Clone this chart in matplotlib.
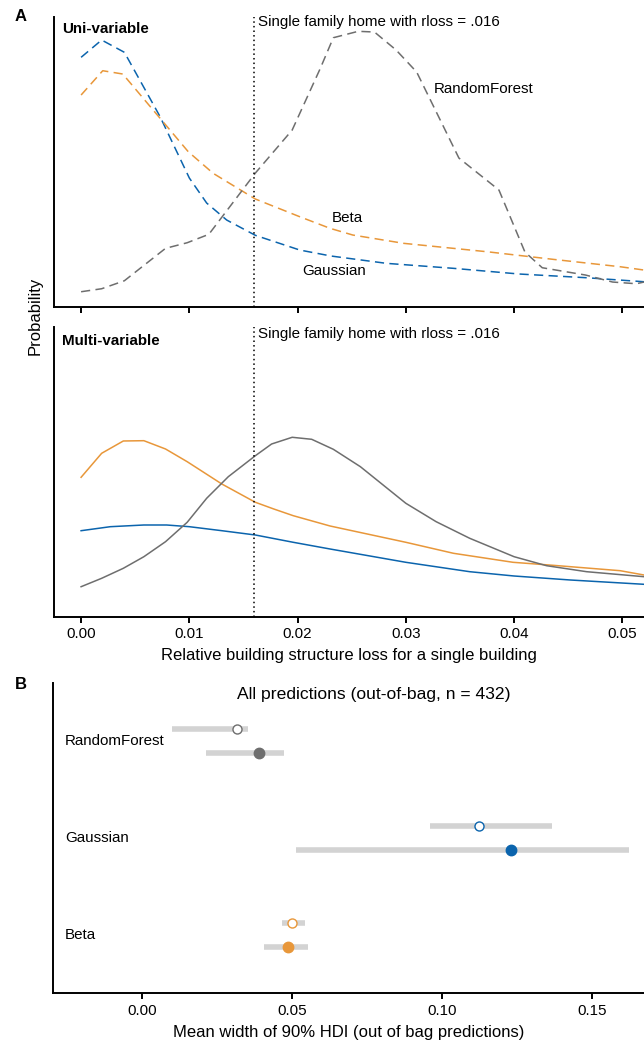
import matplotlib.pyplot as plt

plt.rcParams['font.family'] = ['Liberation Sans', 'DejaVu Sans']

# Panel A: density curves (x = relative loss, y = density, arbitrary units)
uni_gauss_x = [0, .0019, .004, .0073, .01, .0116, .01345, .0161, .0202, .0231, .0282, .0344, .0405, .0467, .052]
uni_gauss_y = [249.7, 267, 254.7, 190.3, 129, 104, 87, 71.7, 57, 51, 43.7, 38.7, 33, 29.3, 25.3]

uni_beta_x = [0, .002, .00385, .0073, .0099, .0122, .0161, .0202, .023, .0251, .0298, .0375, .0436, .0498, .052]
uni_beta_y = [212, 236.3, 233, 188.7, 155.3, 133.7, 108, 90.3, 78.7, 72, 63.7, 55.3, 47.7, 40.3, 37]

uni_rf_x = [0, .0019, .004, .0078, .0098, .0118, .0161, .0195, .0221, .0233, .0256, .0271, .0291, .031,
            .0349, .0386, .041, .0426, .0466, .0491, .0513, .052]
uni_rf_y = [15.3, 18.3, 26.3, 58.7, 64.3, 72.7, 134, 177, 238.7, 269.3, 275.7, 275, 257, 235,
            149, 117, 55, 39.3, 32, 25, 23.3, 25]

multi_beta_x = [0, .0019, .0039, .0058, .0078, .0098, .013, .0161, .0178, .0196, .023, .03, .0344, .0399, .0436, .0498, .052]
multi_beta_y = [139.7, 163.7, 176, 176.3, 168, 155.3, 133, 114.7, 108, 101.3, 91, 74.7, 63.7, 54.7, 51.7, 46.3, 42]

multi_rf_x = [0, .0019, .0039, .0058, .0078, .0098, .0116, .0136, .0161, .0176, .0195, .0213, .0233, .0258,
              .03, .0328, .0359, .04, .043, .0467, .052]
multi_rf_y = [30.3, 38.7, 48.7, 60.3, 75.3, 94.7, 118.7, 140.3, 161.3, 173, 179.7, 177.7, 167.7, 150.3,
              113.7, 95.3, 78.7, 60.3, 51.3, 45.3, 40.3]

multi_gauss_x = [0, .0027, .0058, .0079, .01, .013, .0161, .0196, .023, .03, .0359, .04, .0452, .052]
multi_gauss_y = [86.3, 90.3, 92, 92, 90.3, 86.3, 82, 74.7, 68, 54.7, 45.3, 41, 37, 32.7]

rloss = 0.016

# Panel B: mean width of 90% HDI
models = ['Beta', 'Gaussian', 'RandomForest']
oob_mean = [0.0499, 0.1123, 0.0315]
oob_lo = [0.0466, 0.0959, 0.0100]
oob_hi = [0.0542, 0.1365, 0.0351]
all_mean = [0.0485, 0.1229, 0.0387]
all_lo = [0.0406, 0.0512, 0.0213]
all_hi = [0.0552, 0.1622, 0.0471]

blue = '#0B64AD'
orange = '#E8973A'
gray = '#6E6E6E'
colors = [orange, blue, gray]

fig = plt.figure(figsize=(6.44, 10.44), dpi=100)
ax1 = fig.add_axes([0.0839, 0.7059, 0.9161, 0.2778])
ax2 = fig.add_axes([0.0839, 0.4090, 0.9161, 0.2778])
ax3 = fig.add_axes([0.0828, 0.0486, 0.9172, 0.2972])

fs = 10.9
dash = (6, 3.5)

ax1.plot(uni_gauss_x, uni_gauss_y, color=blue, lw=1.1, dashes=dash)
ax1.plot(uni_beta_x, uni_beta_y, color=orange, lw=1.1, dashes=dash)
ax1.plot(uni_rf_x, uni_rf_y, color=gray, lw=1.1, dashes=dash)
ax1.text(0.0326, 218, 'RandomForest', fontsize=fs, ha='left', va='center')
ax1.text(0.0246, 89, 'Beta', fontsize=fs, ha='center', va='center')
ax1.text(0.0234, 36, 'Gaussian', fontsize=fs, ha='center', va='center')
ax1.text(-0.00175, 278, 'Uni-variable', fontsize=fs, fontweight='bold', ha='left', va='center')

ax2.plot(multi_gauss_x, multi_gauss_y, color=blue, lw=1.1)
ax2.plot(multi_beta_x, multi_beta_y, color=orange, lw=1.1)
ax2.plot(multi_rf_x, multi_rf_y, color=gray, lw=1.1)
ax2.text(-0.00175, 276, 'Multi-variable', fontsize=fs, fontweight='bold', ha='left', va='center')

for ax in (ax1, ax2):
    ax.axvline(rloss, color='black', lw=1.1, ls=(0, (1, 2)))
    ax.text(rloss + 0.0003, 285 if ax is ax1 else 283, 'Single family home with rloss = .016',
            fontsize=fs, ha='left', va='center')
    ax.set_xlim(-0.0025, 0.052)
    ax.set_ylim(0, 290)
    ax.set_yticks([])
    ax.set_xticks([0, 0.01, 0.02, 0.03, 0.04, 0.05])
    for s in ('top', 'right'):
        ax.spines[s].set_visible(False)
    for s in ('left', 'bottom'):
        ax.spines[s].set_linewidth(1.4)
    ax.tick_params(axis='x', length=4.5, width=1.4, labelsize=fs, pad=3)

ax1.tick_params(axis='x', labelbottom=False)
ax2.set_xticklabels(['0.00', '0.01', '0.02', '0.03', '0.04', '0.05'])
ax2.set_xlabel('Relative building structure loss for a single building', fontsize=12, labelpad=5)

fig.text(0.054, 0.697, 'Probability', rotation=90, fontsize=12, ha='center', va='center')
fig.text(0.032, 0.984, 'A', fontsize=12, fontweight='bold', ha='center', va='center')
fig.text(0.032, 0.344, 'B', fontsize=12, fontweight='bold', ha='center', va='center')

# Panel B
for i, m in enumerate(models):
    y_open = i + 1 + 0.125
    y_fill = i + 1 - 0.125
    ax3.plot([oob_lo[i], oob_hi[i]], [y_open, y_open], color='#D3D3D3', lw=4, solid_capstyle='butt', zorder=1)
    ax3.plot([all_lo[i], all_hi[i]], [y_fill, y_fill], color='#D3D3D3', lw=4, solid_capstyle='butt', zorder=1)
    ax3.plot(oob_mean[i], y_open, 'o', ms=6.5, mfc='white', mec=colors[i], mew=1.0, zorder=3)
    ax3.plot(all_mean[i], y_fill, 'o', ms=7.5, mfc=colors[i], mec=colors[i], zorder=3)
    ax3.text(-0.0258, i + 1, m, fontsize=fs, ha='left', va='center')

ax3.text(0.077, 3.48, 'All predictions (out-of-bag, n = 432)', fontsize=12.6, ha='center', va='center')
ax3.set_xlim(-0.0297, 0.1672)
ax3.set_ylim(0.4, 3.6)
ax3.set_yticks([])
ax3.set_xticks([0, 0.05, 0.10, 0.15])
ax3.set_xticklabels(['0.00', '0.05', '0.10', '0.15'])
for s in ('top', 'right'):
    ax3.spines[s].set_visible(False)
for s in ('left', 'bottom'):
    ax3.spines[s].set_linewidth(1.4)
ax3.tick_params(axis='x', length=4.5, width=1.4, labelsize=fs, pad=3)
ax3.set_xlabel('Mean width of 90% HDI (out of bag predictions)', fontsize=12, labelpad=5)

fig.savefig('out.png', dpi=100)
